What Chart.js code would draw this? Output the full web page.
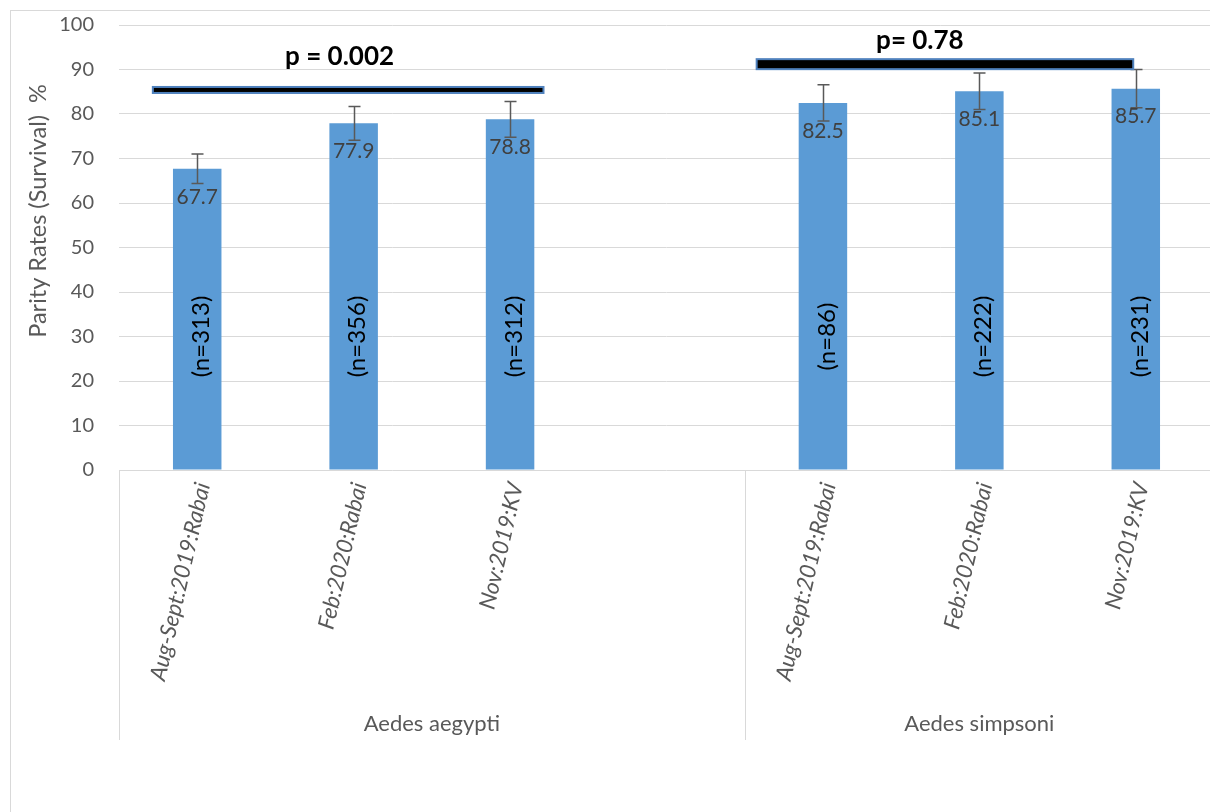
<!DOCTYPE html>
<html>
<head>
<meta charset="utf-8">
<script src="https://cdn.jsdelivr.net/npm/chart.js@4.4.1/dist/chart.umd.min.js"></script>
<style>
  html, body { margin: 0; padding: 0; overflow: hidden; background: #fff; }
  canvas { display: block; }
</style>
</head>
<body>
<canvas id="c" width="1216" height="812"></canvas>
<script>
// ---- data ----
const categories = ["Aug-Sept:2019:Rabai", "Feb:2020:Rabai", "Nov:2019:KV", "",
                    "Aug-Sept:2019:Rabai", "Feb:2020:Rabai", "Nov:2019:KV"];
const parityRates = [67.7, 77.9, 78.8, null, 82.5, 85.1, 85.7];
const errorMargin = [3.3, 3.8, 4.0, null, 4.1, 4.1, 4.3];
const sampleSizes = ["(n=313)", "(n=356)", "(n=312)", "", "(n=86)", "(n=222)", "(n=231)"];
const groupNames = ["Aedes aegypti", "Aedes simpsoni"];
const groupFirst = [0, 4];
const groupLast = [3, 6];
const yTicks = [0, 10, 20, 30, 40, 50, 60, 70, 80, 90, 100];
const yTitle = "Parity Rates (Survival)  %";
const pLabels = ["p = 0.002", "p= 0.78"];
const pFrom = [-0.29, 3.57];
const pTo = [2.22, 5.99];
const pLineAt = [85.4, 91.2];
const pTextAt = [92.8, 96.6];
const pTextX = [0.91, 4.62];
const pLineThick = [8, 12];

const FONT = "Lato, 'Open Sans', sans-serif";

const overlay = {
  id: 'overlay',
  beforeDraw(chart) {
    const ctx = chart.ctx;
    ctx.save();
    ctx.strokeStyle = '#d9d9d9';
    ctx.lineWidth = 1;
    ctx.strokeRect(10.5, 10.5, 1300, 900);
    // y axis title
    const y = chart.scales.y;
    ctx.fillStyle = '#595959';
    ctx.font = '23.5px ' + FONT;
    ctx.textAlign = 'center';
    ctx.textBaseline = 'middle';
    ctx.translate(38, y.getPixelForValue(58.2));
    ctx.rotate(-Math.PI / 2);
    ctx.fillText(yTitle, 0, 0);
    ctx.restore();
  },
  afterDatasetsDraw(chart) {
    const ctx = chart.ctx;
    const x = chart.scales.x, y = chart.scales.y;
    ctx.save();
    // error bars
    ctx.strokeStyle = '#595959';
    ctx.lineWidth = 1.5;
    parityRates.forEach((v, i) => {
      if (v == null) return;
      const px = Math.round(x.getPixelForValue(i)) + 0.5;
      const top = y.getPixelForValue(v + errorMargin[i]);
      const bot = y.getPixelForValue(v - errorMargin[i]);
      ctx.beginPath();
      ctx.moveTo(px, top); ctx.lineTo(px, bot);
      ctx.moveTo(px - 6, top); ctx.lineTo(px + 6, top);
      ctx.moveTo(px - 6, bot); ctx.lineTo(px + 6, bot);
      ctx.stroke();
    });
    // value labels
    ctx.fillStyle = '#404040';
    ctx.font = '21px ' + FONT;
    ctx.textAlign = 'center';
    ctx.textBaseline = 'middle';
    parityRates.forEach((v, i) => {
      if (v == null) return;
      ctx.fillText(v.toFixed(1), x.getPixelForValue(i), y.getPixelForValue(v) + 28);
    });
    // n labels (rotated)
    ctx.fillStyle = '#000';
    ctx.font = '24px ' + FONT;
    sampleSizes.forEach((s, i) => {
      if (!s) return;
      ctx.save();
      ctx.translate(x.getPixelForValue(i) + 4, y.getPixelForValue(30));
      ctx.rotate(-Math.PI / 2);
      ctx.fillText(s, 0, 0);
      ctx.restore();
    });
    // significance bars
    pLabels.forEach((t, k) => {
      const x0 = x.getPixelForValue(pFrom[k]);
      const x1 = x.getPixelForValue(pTo[k]);
      const cy = y.getPixelForValue(pLineAt[k]);
      const h = pLineThick[k];
      ctx.fillStyle = '#4F81BD';
      ctx.fillRect(x0, cy - h / 2, x1 - x0, h);
      ctx.fillStyle = '#000';
      ctx.fillRect(x0 + 2, cy - h / 2 + 2, x1 - x0 - 4, h - 4);
      ctx.font = 'bold 26px ' + FONT;
      ctx.fillText(t, x.getPixelForValue(pTextX[k]), y.getPixelForValue(pTextAt[k]));
    });
    // group dividers and labels
    ctx.strokeStyle = '#d9d9d9';
    ctx.lineWidth = 1;
    const base = y.getPixelForValue(0);
    const bounds = [groupFirst[0] - 0.5].concat(groupLast.map(g => g + 0.5));
    bounds.forEach(b => {
      const px = Math.round(x.getPixelForValue(b)) + 0.5;
      ctx.beginPath();
      ctx.moveTo(px, base); ctx.lineTo(px, base + 270);
      ctx.stroke();
    });
    ctx.fillStyle = '#595959';
    ctx.font = '22px ' + FONT;
    groupNames.forEach((g, k) => {
      const cx = x.getPixelForValue((groupFirst[k] - 0.5 + groupLast[k] + 0.5) / 2);
      ctx.fillText(g, cx, base + 254);
    });
    ctx.restore();
  }
};

new Chart(document.getElementById('c'), {
  type: 'bar',
  data: {
    labels: categories,
    datasets: [{
      data: parityRates,
      backgroundColor: '#5B9BD5',
      borderWidth: 0,
      categoryPercentage: 1,
      barPercentage: 0.31
    }]
  },
  options: {
    responsive: false,
    animation: false,
    layout: { padding: { top: 25, right: 2, left: 0, bottom: 0 } },
    plugins: { legend: { display: false }, tooltip: { enabled: false } },
    scales: {
      x: {
        grid: { display: false, drawTicks: false },
        border: { display: false },
        ticks: {
          autoSkip: false,
          minRotation: 77,
          maxRotation: 77,
          padding: 10,
          labelOffset: 6,
          color: '#595959',
          font: { family: FONT, size: 22.5, style: 'italic' }
        },
        afterFit(s) { s.height = 342; s.paddingLeft = 0; s.paddingRight = 0; }
      },
      y: {
        min: 0, max: 100,
        afterBuildTicks(s) { s.ticks = yTicks.map(v => ({ value: v })); },
        grid: { color: '#d9d9d9', drawTicks: false, lineWidth: 1 },
        border: { display: false },
        ticks: {
          padding: 25,
          color: '#595959',
          font: { family: FONT, size: 20 }
        },
        afterFit(s) { s.width = 119; s.paddingTop = 0; s.paddingBottom = 0; }
      }
    }
  },
  plugins: [overlay]
});
</script>
</body>
</html>
